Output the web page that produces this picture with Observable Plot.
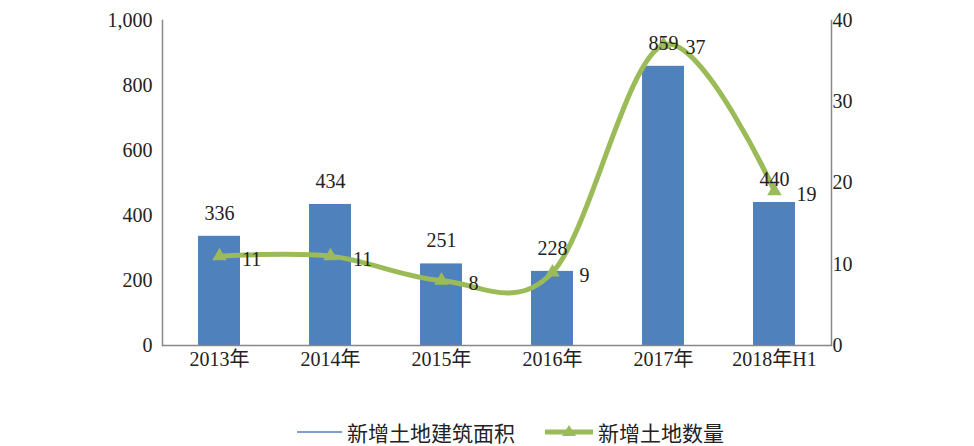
<!DOCTYPE html>
<html>
<head>
<meta charset="utf-8">
<script src="https://cdn.jsdelivr.net/npm/d3@7"></script>
<script src="https://cdn.jsdelivr.net/npm/@observablehq/plot@0.6"></script>
<style>
  body { margin: 0; background: #fff; }
  #chart svg { display: block; }
  .legend { position: relative; height: 51px; font-family: 'Liberation Serif','Noto Sans CJK SC',serif; font-size: 21px; color: #222; }
  .item { position: absolute; top: 23px; display: flex; align-items: center; height: 28px; }
  .sw { display: inline-block; position: relative; margin-right: 5px; }
</style>
</head>
<body>
<div id="chart"></div>
<div class="legend">
  <div class="item" style="left:297px;">
    <svg class="sw" width="45" height="10"><line x1="0" x2="45" y1="5" y2="5" stroke="#4F81BD" stroke-width="1.5"/></svg>
    <span>新增土地建筑面积</span>
  </div>
  <div class="item" style="left:545px;">
    <svg class="sw" width="48" height="16"><line x1="0" x2="48" y1="8" y2="8" stroke="#9BBB59" stroke-width="5"/><path d="M24,1 L31,12 L17,12 Z" fill="#9BBB59"/></svg>
    <span>新增土地数量</span>
  </div>
</div>
<script>
const years = ["2013年", "2014年", "2015年", "2016年", "2017年", "2018年H1"];
const areaValues = [336, 434, 251, 228, 859, 440];
const countValues = [11, 11, 8, 9, 37, 19];
const leftTicks = [0, 200, 400, 600, 800, 1000];
const rightTicks = [0, 10, 20, 30, 40];
const rightFactor = 25; // 40 on right axis == 1000 on left axis

const data = years.map((year, i) => ({ year, area: areaValues[i], count: countValues[i] }));

const blue = "#4F81BD";
const green = "#9BBB59";
const axisGray = "#888888";

const chart = Plot.plot({
  width: 974,
  height: 395,
  marginTop: 20,
  marginBottom: 50,
  marginLeft: 162,
  marginRight: 143,
  style: { fontFamily: "'Liberation Serif','Noto Sans CJK SC',serif", fontSize: "20px", color: "#222" },
  x: { domain: years, paddingInner: 0.62, paddingOuter: 0.31, label: null },
  y: { domain: [0, 1000], label: null },
  marks: [
    Plot.barY(data, { x: "year", y: "area", fill: blue }),
    Plot.frame({ anchor: "left", stroke: axisGray, strokeWidth: 1.5 }),
    Plot.frame({ anchor: "right", stroke: axisGray, strokeWidth: 1.5 }),
    Plot.ruleY([0], { stroke: axisGray, strokeWidth: 1.5 }),
    Plot.axisY({ ticks: leftTicks, tickSize: 0, tickPadding: 10, tickFormat: d3.format(","), label: null, fontSize: 20 }),
    Plot.axisY({ anchor: "right", ticks: rightTicks.map(d => d * rightFactor), tickSize: 0, tickPadding: 1, tickFormat: d => d / rightFactor, label: null, fontSize: 20 }),
    Plot.axisX({ tickSize: 0, tickPadding: 6, label: null, fontSize: 20 }),
    Plot.line(data, { x: "year", y: d => d.count * rightFactor, curve: "cardinal", stroke: green, strokeWidth: 5 }),
    Plot.dot(data, { x: "year", y: d => d.count * rightFactor, symbol: "triangle", r: 5.4, fill: green, stroke: null }),
    Plot.text(data, { x: "year", y: "area", text: d => String(d.area), dy: -23, lineAnchor: "middle", fontSize: 20, fill: "#222" }),
    Plot.text(data, { x: "year", y: d => d.count * rightFactor, text: d => String(d.count), dx: 32, dy: 3, lineAnchor: "middle", fontSize: 20, fill: "#222" })
  ]
});
document.getElementById("chart").appendChild(chart);
</script>
</body>
</html>
